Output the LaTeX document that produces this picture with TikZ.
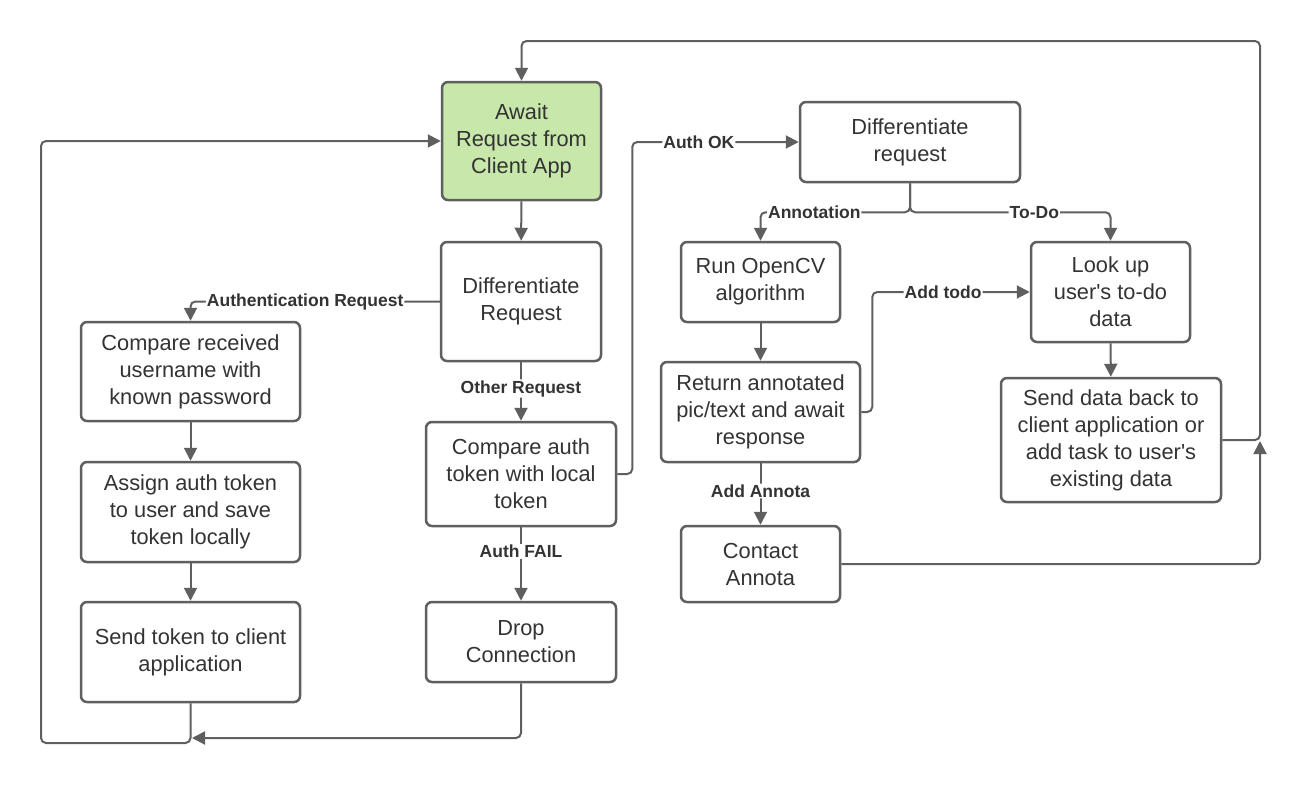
\documentclass[tikz,border=0pt]{standalone}
\usepackage{fontspec}
\setmainfont{Liberation Sans}
\usetikzlibrary{arrows.meta}
\definecolor{edge}{HTML}{5F5F5F}
\definecolor{ink}{HTML}{333333}
\definecolor{startfill}{HTML}{C7E7AB}
\begin{document}
\begin{tikzpicture}[x=1pt,y=-1pt,
  box/.style={draw=edge,line width=2.5pt,rounded corners=6pt,fill=white,align=center,
    text=ink,font=\fontsize{21.8}{27}\selectfont,inner sep=2pt},
  conn/.style={draw=edge,line width=2pt,rounded corners=5pt,
    -{Triangle[length=13pt,width=13pt]}},
  lbl/.style={fill=white,text=ink,inner sep=1pt,font=\fontsize{17.5}{20}\selectfont\bfseries}]
\useasboundingbox (0,0) rectangle (1307,785);

% boxes
\node[box,fill=startfill,minimum width=159,minimum height=118] (aw) at (521.5,141) {Await\\Request from\\Client App};
\node[box,minimum width=160,minimum height=119] (d1) at (521,301.5) {Differentiate\\Request};
\node[box,minimum width=219,minimum height=99] (cu) at (190.5,371.5) {Compare received\\username with\\known password};
\node[box,minimum width=219,minimum height=100] (as) at (190.5,512) {Assign auth token\\to user and save\\token locally};
\node[box,minimum width=219,minimum height=100] (st) at (190.5,652) {Send token to client\\application};
\node[box,minimum width=190,minimum height=104] (ca) at (521,474) {Compare auth\\token with local\\token};
\node[box,minimum width=190,minimum height=80] (dr) at (521,642) {Drop\\Connection};
\node[box,minimum width=220,minimum height=80] (d2) at (910,142) {Differentiate\\request};
\node[box,minimum width=159,minimum height=80] (oc) at (760.5,282) {Run OpenCV\\algorithm};
\node[box,minimum width=199,minimum height=100] (rt) at (760.5,412) {Return annotated\\pic/text and await\\response};
\node[box,minimum width=159,minimum height=76] (ct) at (760.5,564) {Contact\\Annota};
\node[box,minimum width=159,minimum height=100] (lk) at (1110.5,292) {Look up\\user\textquotesingle s to-do\\data};
\node[box,minimum width=220,minimum height=124] (sd) at (1111,440) {Send data back to\\client application or\\add task to user\textquotesingle s\\existing data};

% free ends and bends
\coordinate (loopL) at (41,743);
\coordinate (dropEnd) at (192,738);
\coordinate (topR) at (1260,41);
\coordinate (ctEnd) at (1260,441);

% connectors
\draw[conn] (aw) -- (d1);
\draw[conn] (d1.west) -| node[lbl,pos=0.27] {Authentication Request} (cu.north);
\draw[conn] (d1) -- node[lbl,pos=0.45] {Other Request} (ca);
\draw[conn] (ca.east) -- ++(15,0) |- node[lbl,pos=0.7] {Auth OK} (d2.west);
\draw[conn] (ca) -- node[lbl,pos=0.33] {Auth FAIL} (dr);
\draw[conn] (cu) -- (as);
\draw[conn] (as) -- (st);
\draw[conn] (st.south) |- (loopL) |- (aw.west);
\draw[conn] (dr.south) |- (dropEnd);
\draw[conn] (d2.south) -- ++(0,29) -| node[lbl,pos=0.32] {Annotation} (oc.north);
\draw[conn] (d2.south) -- ++(0,29) -| node[lbl,pos=0.31] {To-Do} (lk.north);
\draw[conn] (oc) -- (rt);
\draw[conn] (rt.east) -- ++(11,0) |- node[lbl,pos=0.725] {Add todo} (lk.west);
\draw[conn] (rt) -- node[lbl,pos=0.45] {Add Annota} (ct);
\draw[conn] (lk) -- (sd);
\draw[conn] (sd.east) -| (topR) -| (aw.north);
\draw[conn] (ct.east) -| (ctEnd);
\end{tikzpicture}
\end{document}
